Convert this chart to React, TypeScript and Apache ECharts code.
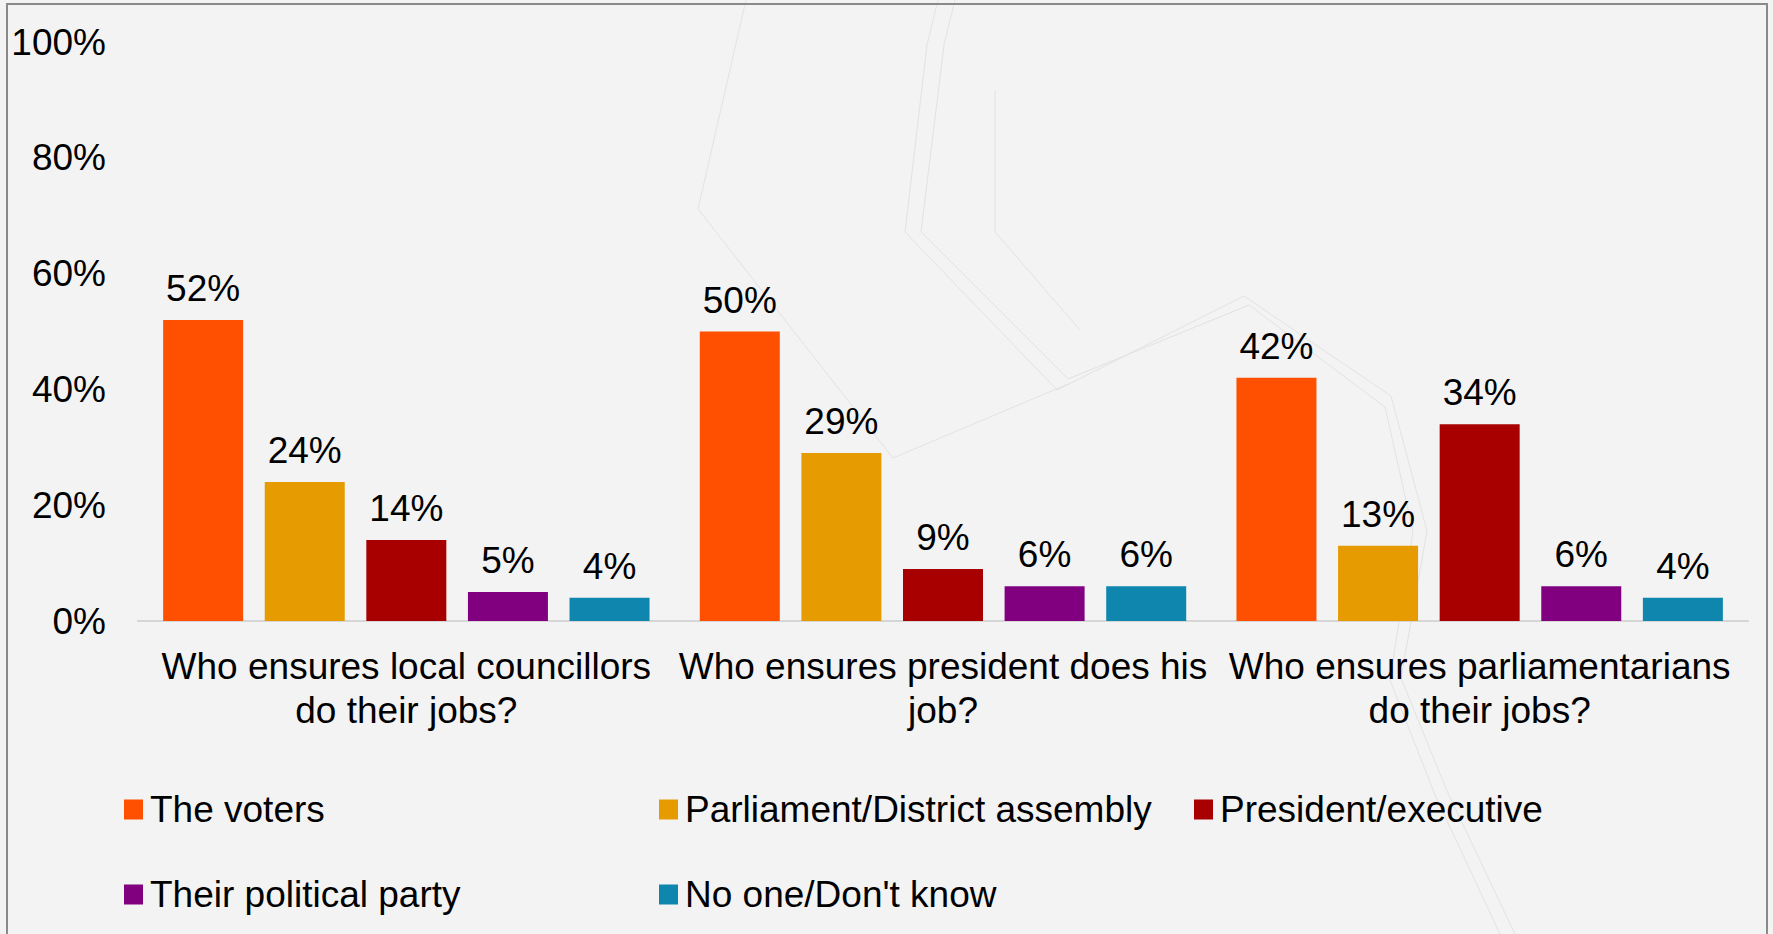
import React, { useEffect, useRef } from "react";
import * as echarts from "echarts";

const categories = [
  "Who ensures local councillors\ndo their jobs?",
  "Who ensures president does his\njob?",
  "Who ensures parliamentarians\ndo their jobs?",
];
const seriesNames = [
  "The voters",
  "Parliament/District assembly",
  "President/executive",
  "Their political party",
  "No one/Don't know",
];
const voters = [52, 50, 42];
const parliament = [24, 29, 13];
const president = [14, 9, 34];
const party = [5, 6, 6];
const noOne = [4, 6, 4];
const seriesValues = [voters, parliament, president, party, noOne];
const seriesColors = ["#FE5000", "#E69C00", "#A80000", "#800080", "#0F86AD"];

const FONT = '"Liberation Sans", Arial, Helvetica, sans-serif';
const FS = 37;

// legend layout (positions only)
const legendPos = [
  { left: 124, top: 791 },
  { left: 659, top: 791 },
  { left: 1194, top: 791 },
  { left: 124, top: 876 },
  { left: 659, top: 876 },
];

const decoLines = [
  [[938, 0], [927, 45], [905, 232], [1057, 390], [1244, 296], [1391, 396], [1427, 531], [1401, 678], [1447, 791], [1515, 934]],
  [[955, 0], [944, 45], [921, 232], [1068, 379], [1249, 305], [1385, 407], [1413, 531], [1390, 680], [1435, 795], [1500, 934]],
  [[746, 0], [698, 209], [893, 458], [1068, 384]],
  [[995, 90], [995, 232], [1080, 330]],
];

export default function App() {
  const ref = useRef<HTMLDivElement>(null);
  useEffect(() => {
    if (!ref.current) return;
    const chart = echarts.init(ref.current, null, { renderer: "svg" });
    const option: any = {
      animation: false,
      backgroundColor: "#f3f3f3",
      textStyle: { fontFamily: FONT },
      graphic: [
        ...decoLines.map((pts) => ({
          type: "polyline",
          silent: true,
          z: -10,
          shape: { points: pts },
          style: { stroke: "#e2e2e2", lineWidth: 1, fill: "none" },
        })),
        {
          type: "rect",
          silent: true,
          z: 100,
          shape: { x: 7, y: 4, width: 1760, height: 940 },
          style: { fill: "none", stroke: "#8a8a8a", lineWidth: 2 },
        },
      ],
      legend: seriesNames.map((name, i) => ({
        data: [name],
        left: legendPos[i].left,
        top: legendPos[i].top,
        padding: 0,
        icon: "rect",
        itemWidth: 19,
        itemHeight: 20,
        selectedMode: false,
        textStyle: {
          fontSize: FS,
          color: "#000",
          fontFamily: FONT,
          padding: [0, 0, 0, 2],
        },
      })),
      grid: { left: 138, right: 25, top: 42, bottom: 313, containLabel: false },
      xAxis: {
        type: "category",
        data: categories,
        axisLine: { lineStyle: { color: "#d6d6d6", width: 2 } },
        axisTick: { show: false },
        axisLabel: {
          interval: 0,
          fontSize: FS,
          color: "#000",
          lineHeight: 44,
          margin: 23,
          fontFamily: FONT,
        },
      },
      yAxis: {
        type: "value",
        min: 0,
        max: 100,
        interval: 20,
        splitLine: { show: false },
        axisLine: { show: false },
        axisTick: { show: false },
        axisLabel: {
          formatter: "{value}%",
          fontSize: FS,
          color: "#000",
          margin: 32,
          fontFamily: FONT,
        },
      },
      series: seriesNames.map((name, i) => ({
        name,
        type: "bar",
        data: seriesValues[i],
        barWidth: 80,
        barGap: "27%",
        itemStyle: { color: seriesColors[i] },
        label: {
          show: true,
          position: "top",
          distance: 13,
          formatter: "{c}%",
          fontSize: FS,
          color: "#000",
          fontFamily: FONT,
        },
      })),
    };
    chart.setOption(option);
    return () => chart.dispose();
  }, []);
  return (
    <div
      ref={ref}
      style={{ position: "fixed", left: 0, top: 0, width: 1773, height: 934 }}
    />
  );
}
